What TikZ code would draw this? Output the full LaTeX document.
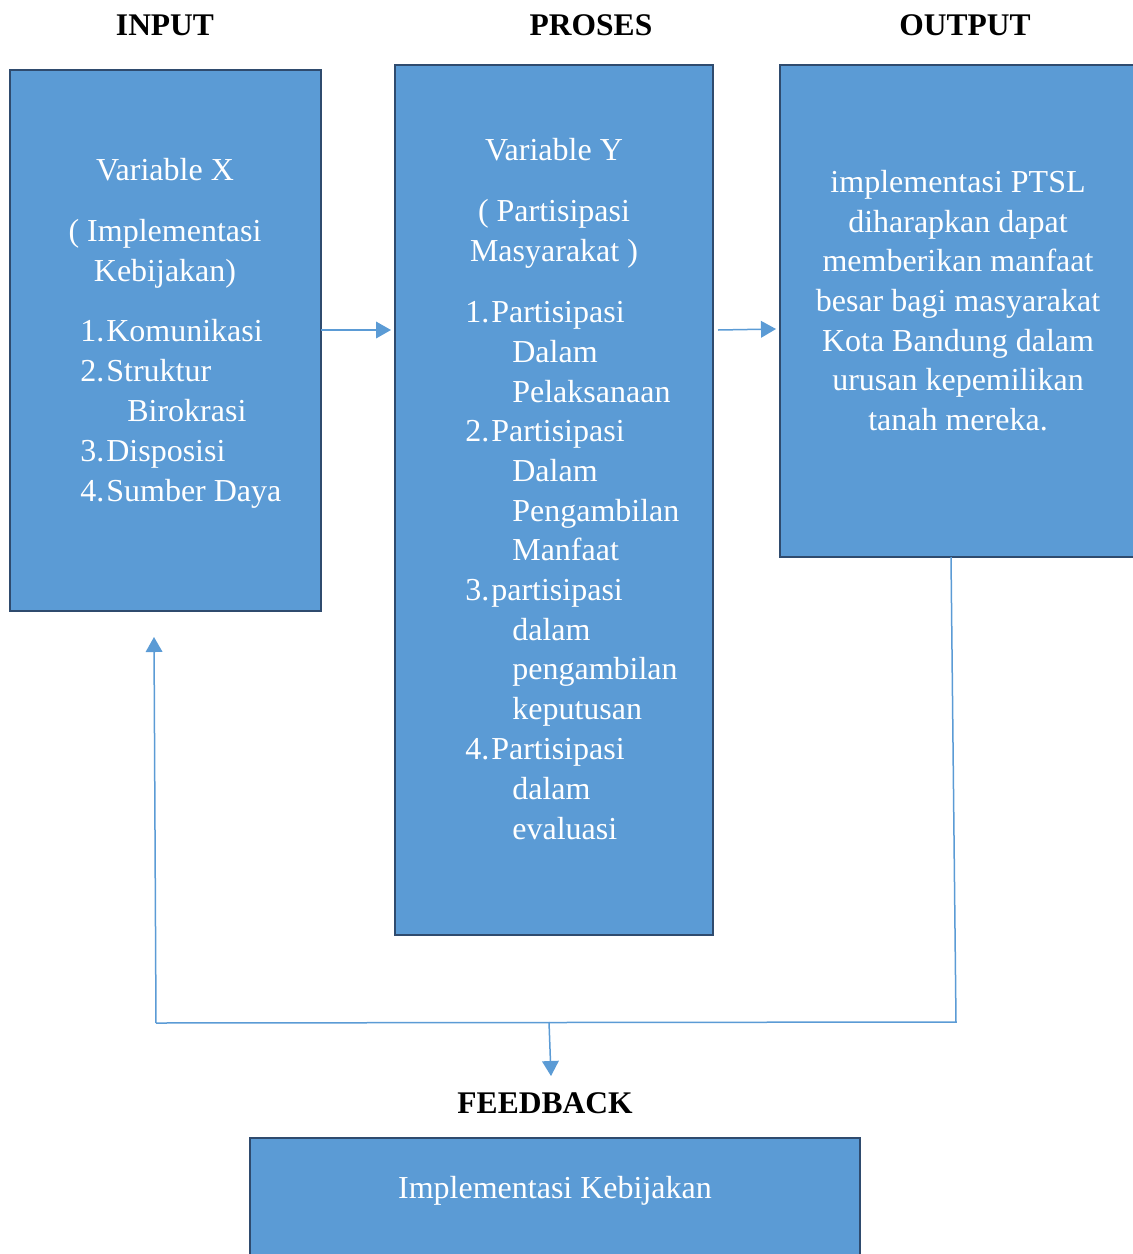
\documentclass[tikz,border=0pt]{standalone}
\usepackage{fontspec}
\setmainfont{Liberation Serif}
\usetikzlibrary{arrows.meta}
\definecolor{boxfill}{HTML}{5B9BD5}
\definecolor{boxedge}{HTML}{2F4B6E}
\definecolor{linecol}{HTML}{5B9BD5}
\begin{document}
\begin{tikzpicture}[x=0.6pt,y=-0.6pt,
  bluebox/.style={fill=boxfill,draw=boxedge,line width=1.6pt},
  txt/.style={text=white,font=\fontsize{19.2}{24}\selectfont,inner sep=0pt,anchor=mid},
  txtl/.style={txt,anchor=mid west},
  head/.style={font=\fontsize{18.9}{22}\selectfont\bfseries,inner sep=0pt,anchor=base},
  conn/.style={draw=linecol,line width=0.9pt},
  arr/.style={conn,-{Triangle[length=9pt,width=10pt]}}]
\useasboundingbox (0,0) rectangle (1133,1254);
\clip (0,0) rectangle (1133,1254);
% headers
\node[head] (hin) at (165,35) {INPUT};
\node[head] (hpr) at (591,35) {PROSES};
\node[head] (hout) at (965,35) {OUTPUT};
\node[head] (hfb) at (545,1113) {FEEDBACK};
% boxes
\draw[bluebox] (10,70) rectangle (321,611);
\coordinate (inR) at (321,330);
\coordinate (inB) at (154,611);
\draw[bluebox] (395,65) rectangle (713,935);
\coordinate (prL) at (391,330);
\coordinate (prR) at (718,330);
\draw[bluebox] (780,65) rectangle (1145,557);
\coordinate (outL) at (776,329);
\coordinate (outB) at (951,557);
\draw[bluebox] (250,1138) rectangle (860,1270);
% input text
\node[txt] (x1) at (165,177) {Variable X};
\node[txt] (x2) at (165,238) {( Implementasi};
\node[txt] (x3) at (165,278) {Kebijakan)};
\node[txtl] (x4) at (80,338) {1.};
\node[txtl] (x4b) at (106,338) {Komunikasi};
\node[txtl] (x5) at (80,378) {2.};
\node[txtl] (x5b) at (106,378) {Struktur};
\node[txtl] (x6) at (127,418) {Birokrasi};
\node[txtl] (x7) at (80,458) {3.};
\node[txtl] (x7b) at (106,458) {Disposisi};
\node[txtl] (x8) at (80,498) {4.};
\node[txtl] (x8b) at (106,498) {Sumber Daya};
% proses text
\node[txt] (y1) at (554,157) {Variable Y};
\node[txt] (y2) at (554,218) {( Partisipasi};
\node[txt] (y3) at (554,258) {Masyarakat )};
\node[txtl] (n1) at (465,319) {1.};
\node[txtl] (p1) at (491,319) {Partisipasi};
\node[txtl] (p2) at (512,359) {Dalam};
\node[txtl] (p3) at (512,399) {Pelaksanaan};
\node[txtl] (n2) at (465,438) {2.};
\node[txtl] (p4) at (491,438) {Partisipasi};
\node[txtl] (p5) at (512,478) {Dalam};
\node[txtl] (p6) at (512,518) {Pengambilan};
\node[txtl] (p7) at (512,557) {Manfaat};
\node[txtl] (n3) at (465,597) {3.};
\node[txtl] (p8) at (491,597) {partisipasi};
\node[txtl] (p9) at (512,637) {dalam};
\node[txtl] (p10) at (512,676) {pengambilan};
\node[txtl] (p11) at (512,716) {keputusan};
\node[txtl] (n4) at (465,756) {4.};
\node[txtl] (p12) at (491,756) {Partisipasi};
\node[txtl] (p13) at (512,796) {dalam};
\node[txtl] (p14) at (512,836) {evaluasi};
% output text
\node[txt] (o1) at (958,189) {implementasi PTSL};
\node[txt] (o2) at (958,229) {diharapkan dapat};
\node[txt] (o3) at (958,268) {memberikan manfaat};
\node[txt] (o4) at (958,308) {besar bagi masyarakat};
\node[txt] (o5) at (958,348) {Kota Bandung dalam};
\node[txt] (o6) at (958,387) {urusan kepemilikan};
\node[txt] (o7) at (958,427) {tanah mereka.};
% feedback text
\node[txt] (f1) at (555,1195) {Implementasi Kebijakan};
% connectors
\coordinate (cR) at (956,1022);
\coordinate (cL) at (156,1023);
\coordinate (cM) at (549,1022);
\coordinate (fbT) at (551,1076);
\coordinate (inArr) at (154,637);
\draw[arr] (inR) -- (prL);
\draw[arr] (prR) -- (outL);
\draw[conn] (outB) -- (cR) -- (cL);
\draw[arr] (cL) -- (inArr);
\draw[arr] (cM) -- (fbT);
\end{tikzpicture}
\end{document}
